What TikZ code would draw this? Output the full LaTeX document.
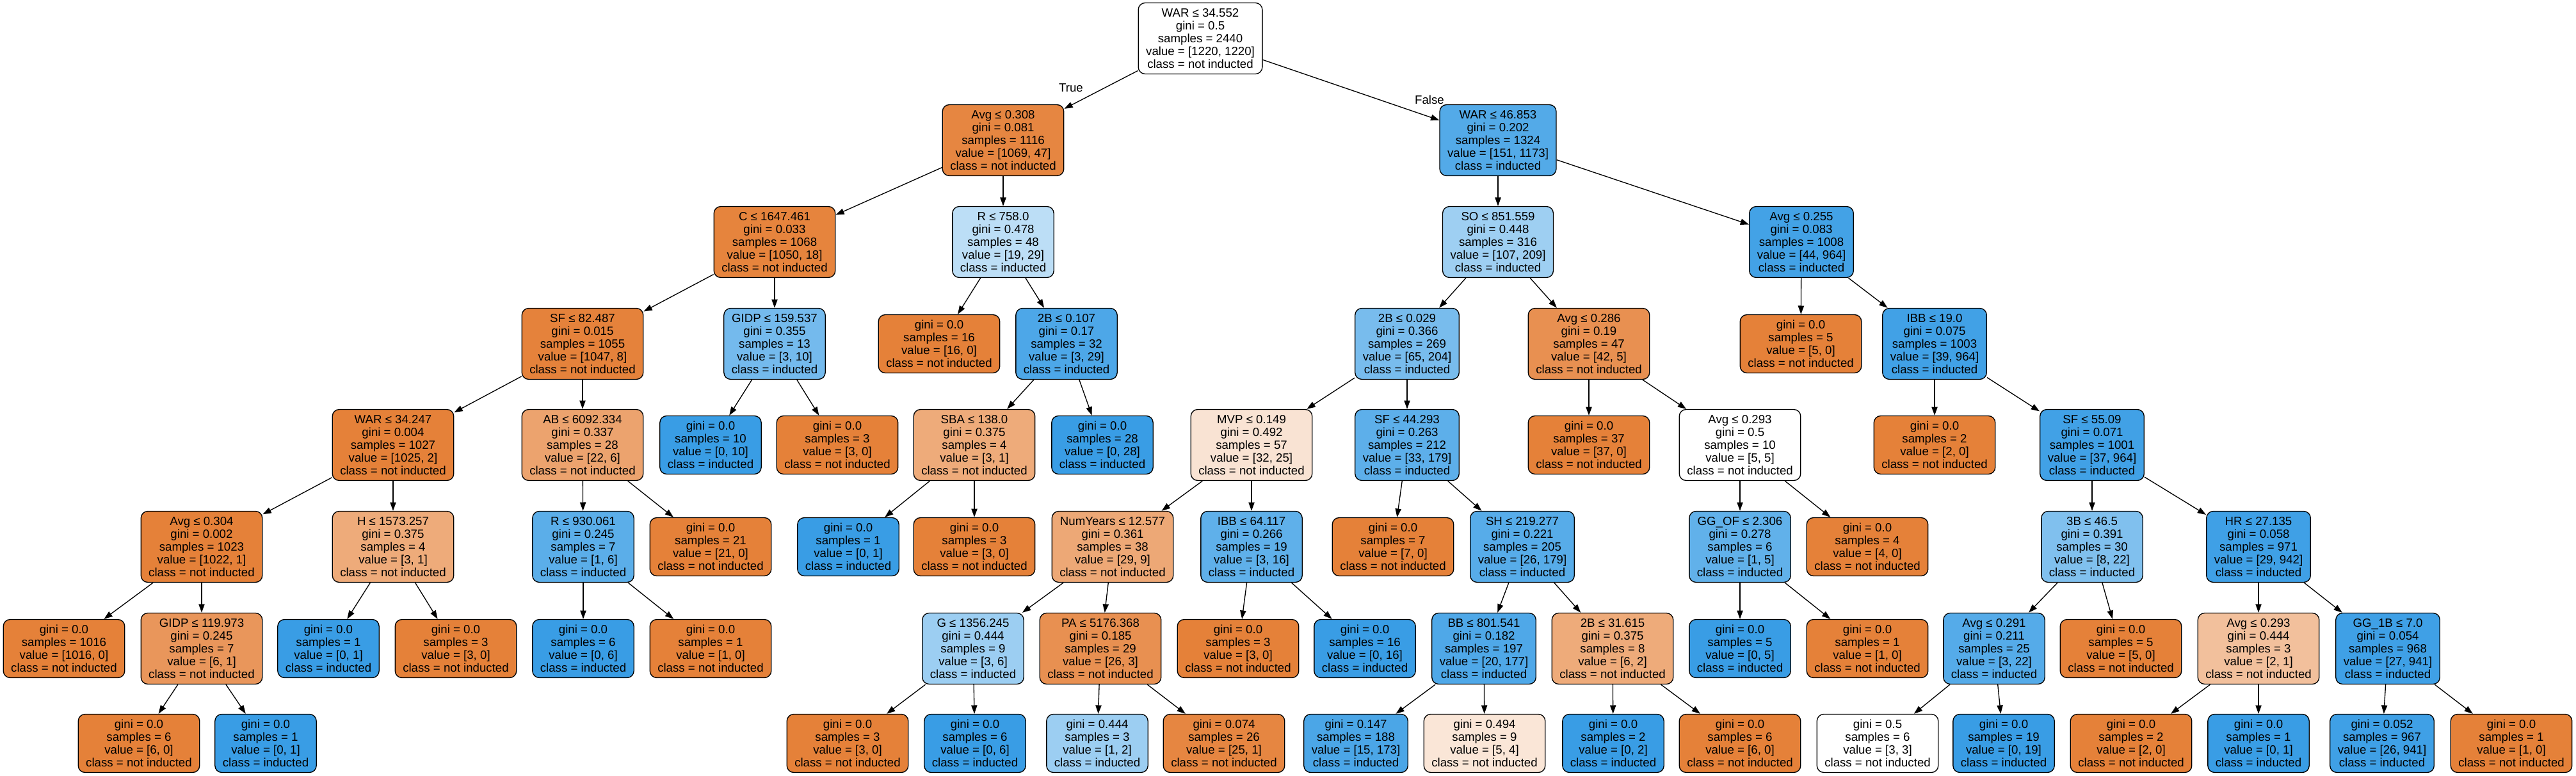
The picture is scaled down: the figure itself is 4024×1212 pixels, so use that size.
\documentclass[tikz,border=0pt]{standalone}
\usepackage{fontspec}
\setmainfont{Liberation Sans}
\usetikzlibrary{arrows.meta}
\definecolor{notcol}{RGB}{229,129,57}
\definecolor{indcol}{RGB}{57,157,229}
\tikzset{
  box/.style={draw,line width=1pt,rounded corners=8pt,align=center,inner xsep=9pt,inner ysep=3pt,font=\fontsize{14}{15}\selectfont},
  dec/.style={box,minimum height=83.25pt},
  lf/.style={box,minimum height=68.25pt},
  cn/.style={fill=notcol!#1!white},
  ci/.style={fill=indcol!#1!white},
  lbl/.style={font=\fontsize{14}{15}\selectfont}
}
\begin{document}
\begin{tikzpicture}[x=0.75pt,y=-0.75pt,>={Triangle[length=10pt,width=7pt]}]
\useasboundingbox (0,0) rectangle (4024,1212);
\node[dec,cn=0] (t) at (1875,60) {WAR ≤ 34.552\\gini = 0.5\\samples = 2440\\value = [1220, 1220]\\class = not inducted};
\node[lbl] (ltrue) at (1673,137) {True};
\node[lbl] (lfalse) at (2233,156) {False};
\node[dec,cn=96] (tL) at (1567,219) {Avg ≤ 0.308\\gini = 0.081\\samples = 1116\\value = [1069, 47]\\class = not inducted};
\node[dec,ci=87] (tR) at (2340,219) {WAR ≤ 46.853\\gini = 0.202\\samples = 1324\\value = [151, 1173]\\class = inducted};
\node[dec,cn=98] (tLL) at (1210,378) {C ≤ 1647.461\\gini = 0.033\\samples = 1068\\value = [1050, 18]\\class = not inducted};
\node[dec,ci=34] (tLR) at (1567,378) {R ≤ 758.0\\gini = 0.478\\samples = 48\\value = [19, 29]\\class = inducted};
\node[dec,ci=49] (tRL) at (2340,378) {SO ≤ 851.559\\gini = 0.448\\samples = 316\\value = [107, 209]\\class = inducted};
\node[dec,ci=95] (tRR) at (2814,378) {Avg ≤ 0.255\\gini = 0.083\\samples = 1008\\value = [44, 964]\\class = inducted};
\node[dec,cn=99] (tLLL) at (910,537) {SF ≤ 82.487\\gini = 0.015\\samples = 1055\\value = [1047, 8]\\class = not inducted};
\node[dec,ci=70] (tLLR) at (1210,537) {GIDP ≤ 159.537\\gini = 0.355\\samples = 13\\value = [3, 10]\\class = inducted};
\node[lf,cn=100] (tLRL) at (1467,537) {gini = 0.0\\samples = 16\\value = [16, 0]\\class = not inducted};
\node[dec,ci=90] (tLRR) at (1666,537) {2B ≤ 0.107\\gini = 0.17\\samples = 32\\value = [3, 29]\\class = inducted};
\node[dec,ci=68] (tRLL) at (2198,537) {2B ≤ 0.029\\gini = 0.366\\samples = 269\\value = [65, 204]\\class = inducted};
\node[dec,cn=88] (tRLR) at (2482,537) {Avg ≤ 0.286\\gini = 0.19\\samples = 47\\value = [42, 5]\\class = not inducted};
\node[lf,cn=100] (tRRL) at (2813,537) {gini = 0.0\\samples = 5\\value = [5, 0]\\class = not inducted};
\node[dec,ci=96] (tRRR) at (3022,537) {IBB ≤ 19.0\\gini = 0.075\\samples = 1003\\value = [39, 964]\\class = inducted};
\node[dec,cn=100] (tLLLL) at (614,695) {WAR ≤ 34.247\\gini = 0.004\\samples = 1027\\value = [1025, 2]\\class = not inducted};
\node[dec,cn=73] (tLLLR) at (910,695) {AB ≤ 6092.334\\gini = 0.337\\samples = 28\\value = [22, 6]\\class = not inducted};
\node[lf,ci=100] (tLLRL) at (1110,695) {gini = 0.0\\samples = 10\\value = [0, 10]\\class = inducted};
\node[lf,cn=100] (tLLRR) at (1308,695) {gini = 0.0\\samples = 3\\value = [3, 0]\\class = not inducted};
\node[dec,cn=67] (tLRRL) at (1522,695) {SBA ≤ 138.0\\gini = 0.375\\samples = 4\\value = [3, 1]\\class = not inducted};
\node[lf,ci=100] (tLRRR) at (1722,695) {gini = 0.0\\samples = 28\\value = [0, 28]\\class = inducted};
\node[dec,cn=22] (tRLLL) at (1955,695) {MVP ≤ 0.149\\gini = 0.492\\samples = 57\\value = [32, 25]\\class = not inducted};
\node[dec,ci=82] (tRLLR) at (2198,695) {SF ≤ 44.293\\gini = 0.263\\samples = 212\\value = [33, 179]\\class = inducted};
\node[lf,cn=100] (tRLRL) at (2482,695) {gini = 0.0\\samples = 37\\value = [37, 0]\\class = not inducted};
\node[dec,cn=0] (tRLRR) at (2718,695) {Avg ≤ 0.293\\gini = 0.5\\samples = 10\\value = [5, 5]\\class = not inducted};
\node[lf,cn=100] (tRRRL) at (3022,695) {gini = 0.0\\samples = 2\\value = [2, 0]\\class = not inducted};
\node[dec,ci=96] (tRRRR) at (3268,695) {SF ≤ 55.09\\gini = 0.071\\samples = 1001\\value = [37, 964]\\class = inducted};
\node[dec,cn=100] (tLLLLL) at (315,854) {Avg ≤ 0.304\\gini = 0.002\\samples = 1023\\value = [1022, 1]\\class = not inducted};
\node[dec,cn=67] (tLLLLR) at (614,854) {H ≤ 1573.257\\gini = 0.375\\samples = 4\\value = [3, 1]\\class = not inducted};
\node[dec,ci=83] (tLLLRL) at (911,854) {R ≤ 930.061\\gini = 0.245\\samples = 7\\value = [1, 6]\\class = inducted};
\node[lf,cn=100] (tLLLRR) at (1110,854) {gini = 0.0\\samples = 21\\value = [21, 0]\\class = not inducted};
\node[lf,ci=100] (tLRRLL) at (1325,854) {gini = 0.0\\samples = 1\\value = [0, 1]\\class = inducted};
\node[lf,cn=100] (tLRRLR) at (1522,854) {gini = 0.0\\samples = 3\\value = [3, 0]\\class = not inducted};
\node[dec,cn=69] (tRLLLL) at (1738,854) {NumYears ≤ 12.577\\gini = 0.361\\samples = 38\\value = [29, 9]\\class = not inducted};
\node[dec,ci=81] (tRLLLR) at (1955,854) {IBB ≤ 64.117\\gini = 0.266\\samples = 19\\value = [3, 16]\\class = inducted};
\node[lf,cn=100] (tRLLRL) at (2176,854) {gini = 0.0\\samples = 7\\value = [7, 0]\\class = not inducted};
\node[dec,ci=85] (tRLLRR) at (2378,854) {SH ≤ 219.277\\gini = 0.221\\samples = 205\\value = [26, 179]\\class = inducted};
\node[dec,ci=80] (tRLRRL) at (2718,854) {GG\_OF ≤ 2.306\\gini = 0.278\\samples = 6\\value = [1, 5]\\class = inducted};
\node[lf,cn=100] (tRLRRR) at (2917,854) {gini = 0.0\\samples = 4\\value = [4, 0]\\class = not inducted};
\node[dec,ci=64] (tRRRRL) at (3268,854) {3B ≤ 46.5\\gini = 0.391\\samples = 30\\value = [8, 22]\\class = inducted};
\node[dec,ci=97] (tRRRRR) at (3528,854) {HR ≤ 27.135\\gini = 0.058\\samples = 971\\value = [29, 942]\\class = inducted};
\node[lf,cn=100] (tLLLLLL) at (100,1013) {gini = 0.0\\samples = 1016\\value = [1016, 0]\\class = not inducted};
\node[dec,cn=83] (tLLLLLR) at (315,1013) {GIDP ≤ 119.973\\gini = 0.245\\samples = 7\\value = [6, 1]\\class = not inducted};
\node[lf,ci=100] (tLLLLRL) at (513,1013) {gini = 0.0\\samples = 1\\value = [0, 1]\\class = inducted};
\node[lf,cn=100] (tLLLLRR) at (712,1013) {gini = 0.0\\samples = 3\\value = [3, 0]\\class = not inducted};
\node[lf,ci=100] (tLLLRLL) at (911,1013) {gini = 0.0\\samples = 6\\value = [0, 6]\\class = inducted};
\node[lf,cn=100] (tLLLRLR) at (1110,1013) {gini = 0.0\\samples = 1\\value = [1, 0]\\class = not inducted};
\node[dec,ci=50] (tRLLLLL) at (1520,1013) {G ≤ 1356.245\\gini = 0.444\\samples = 9\\value = [3, 6]\\class = inducted};
\node[dec,cn=88] (tRLLLLR) at (1719,1013) {PA ≤ 5176.368\\gini = 0.185\\samples = 29\\value = [26, 3]\\class = not inducted};
\node[lf,cn=100] (tRLLLRL) at (1934,1013) {gini = 0.0\\samples = 3\\value = [3, 0]\\class = not inducted};
\node[lf,ci=100] (tRLLLRR) at (2132,1013) {gini = 0.0\\samples = 16\\value = [0, 16]\\class = inducted};
\node[dec,ci=89] (tRLLRRL) at (2318,1013) {BB ≤ 801.541\\gini = 0.182\\samples = 197\\value = [20, 177]\\class = inducted};
\node[dec,cn=67] (tRLLRRR) at (2519,1013) {2B ≤ 31.615\\gini = 0.375\\samples = 8\\value = [6, 2]\\class = not inducted};
\node[lf,ci=100] (tRLRRLL) at (2718,1013) {gini = 0.0\\samples = 5\\value = [0, 5]\\class = inducted};
\node[lf,cn=100] (tRLRRLR) at (2917,1013) {gini = 0.0\\samples = 1\\value = [1, 0]\\class = not inducted};
\node[dec,ci=86] (tRRRRLL) at (3115,1013) {Avg ≤ 0.291\\gini = 0.211\\samples = 25\\value = [3, 22]\\class = inducted};
\node[lf,cn=100] (tRRRRLR) at (3313,1013) {gini = 0.0\\samples = 5\\value = [5, 0]\\class = not inducted};
\node[dec,cn=50] (tRRRRRL) at (3528,1013) {Avg ≤ 0.293\\gini = 0.444\\samples = 3\\value = [2, 1]\\class = not inducted};
\node[dec,ci=97] (tRRRRRR) at (3730,1013) {GG\_1B ≤ 7.0\\gini = 0.054\\samples = 968\\value = [27, 941]\\class = inducted};
\node[lf,cn=100] (tLLLLLRL) at (217,1161) {gini = 0.0\\samples = 6\\value = [6, 0]\\class = not inducted};
\node[lf,ci=100] (tLLLLLRR) at (415,1161) {gini = 0.0\\samples = 1\\value = [0, 1]\\class = inducted};
\node[lf,cn=100] (tRLLLLLL) at (1324,1161) {gini = 0.0\\samples = 3\\value = [3, 0]\\class = not inducted};
\node[lf,ci=100] (tRLLLLLR) at (1523,1161) {gini = 0.0\\samples = 6\\value = [0, 6]\\class = inducted};
\node[lf,ci=50] (tRLLLLRL) at (1714,1161) {gini = 0.444\\samples = 3\\value = [1, 2]\\class = inducted};
\node[lf,cn=96] (tRLLLLRR) at (1912,1161) {gini = 0.074\\samples = 26\\value = [25, 1]\\class = not inducted};
\node[lf,ci=91] (tRLLRRLL) at (2118,1161) {gini = 0.147\\samples = 188\\value = [15, 173]\\class = inducted};
\node[lf,cn=20] (tRLLRRLR) at (2319,1161) {gini = 0.494\\samples = 9\\value = [5, 4]\\class = not inducted};
\node[lf,ci=100] (tRLLRRRL) at (2520,1161) {gini = 0.0\\samples = 2\\value = [0, 2]\\class = inducted};
\node[lf,cn=100] (tRLLRRRR) at (2718,1161) {gini = 0.0\\samples = 6\\value = [6, 0]\\class = not inducted};
\node[lf,cn=0] (tRRRRLLL) at (2933,1161) {gini = 0.5\\samples = 6\\value = [3, 3]\\class = not inducted};
\node[lf,ci=100] (tRRRRLLR) at (3130,1161) {gini = 0.0\\samples = 19\\value = [0, 19]\\class = inducted};
\node[lf,cn=100] (tRRRRRLL) at (3329,1161) {gini = 0.0\\samples = 2\\value = [2, 0]\\class = not inducted};
\node[lf,ci=100] (tRRRRRLR) at (3528,1161) {gini = 0.0\\samples = 1\\value = [0, 1]\\class = inducted};
\node[lf,ci=97] (tRRRRRRL) at (3721,1161) {gini = 0.052\\samples = 967\\value = [26, 941]\\class = inducted};
\node[lf,cn=100] (tRRRRRRR) at (3923,1161) {gini = 0.0\\samples = 1\\value = [1, 0]\\class = not inducted};
\foreach \p in {t,tL,tR,tLL,tLR,tRL,tRR,tLLL,tLLR,tLRR,tRLL,tRLR,tRRR,tLLLL,tLLLR,tLRRL,tRLLL,tRLLR,tRLRR,tRRRR,tLLLLL,tLLLLR,tLLLRL,tRLLLL,tRLLLR,tRLLRR,tRLRRL,tRRRRL,tRRRRR,tLLLLLR,tRLLLLL,tRLLLLR,tRLLRRL,tRLLRRR,tRRRRLL,tRRRRRL,tRRRRRR}{\draw[->,line width=1pt] (\p) -- (\p L); \draw[->,line width=1pt] (\p) -- (\p R);}
\end{tikzpicture}
\end{document}
